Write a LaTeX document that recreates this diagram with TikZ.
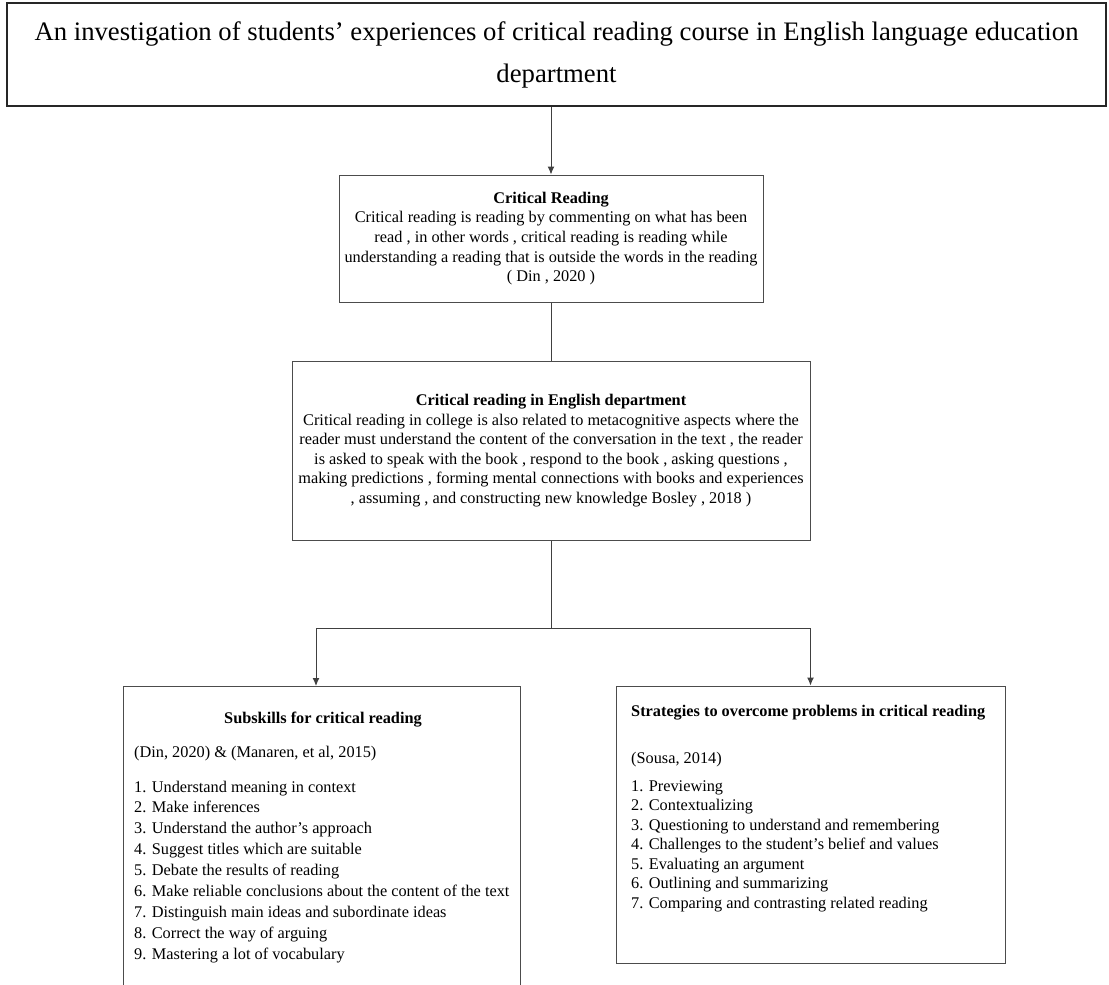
\documentclass[tikz,border=0pt]{standalone}
\usepackage{fontspec}
\setmainfont{Liberation Serif}
\usetikzlibrary{arrows.meta}

\begin{document}
\begin{tikzpicture}[x=1pt,y=-1pt,
    box/.style={draw=black!70,line width=1pt,inner sep=0pt},
    body/.style={font=\fontsize{16.3}{19.6}\selectfont,align=center,inner sep=0pt},
    itemtext/.style={font=\fontsize{16.3}{19.6}\selectfont,inner sep=0pt,anchor=base west},
    headtext/.style={font=\fontsize{16.3}{19.6}\selectfont\bfseries,inner sep=0pt},
    conn/.style={draw=black!75,line width=1pt},
    arr/.style={conn,-{Latex[length=8pt,width=7pt]}}]
    \useasboundingbox (0,0) rectangle (1109,985);

    % top title
    \node(title)[box,draw=black!85,line width=1.8pt,minimum width=1099pt,minimum height=103pt,
        font=\fontsize{26.7}{42}\selectfont,align=center] at (556.5,54.5)
        {An investigation of students’ experiences of critical reading course in English language education\\department};

    % middle boxes
    \node(cr)[box,minimum width=424pt,minimum height=127pt,body] at (551,238.5)
        {\textbf{Critical Reading}\\
        Critical reading is reading by commenting on what has been\\
        read , in other words , critical reading is reading while\\
        understanding a reading that is outside the words in the reading\\
        ( Din , 2020 )};
    \node(cre)[box,minimum width=518pt,minimum height=179pt,body] at (551,450.5)
        {\textbf{Critical reading in English department}\\
        Critical reading in college is also related to metacognitive aspects where the\\
        reader must understand the content of the conversation in the text , the reader\\
        is asked to speak with the book , respond to the book , asking questions ,\\
        making predictions , forming mental connections with books and experiences\\
        , assuming , and constructing new knowledge Bosley , 2018 )};

    % bottom boxes
    \node(sub)[box,minimum width=397pt,minimum height=320pt] at (321.5,846) {};
    \node(str)[box,minimum width=389pt,minimum height=277pt] at (810.5,824.5) {};

    \node(subhead)[headtext,anchor=base] at (323,723) {Subskills for critical reading};
    \node(subsrc)[itemtext] at (134,757) {(Din, 2020) \& (Manaren, et al, 2015)};
    \foreach \t [count=\i] in {Understand meaning in context, Make inferences,
        Understand the author's approach, Suggest titles which are suitable,
        Debate the results of reading, Make reliable conclusions about the content of the text,
        Distinguish main ideas and subordinate ideas, Correct the way of arguing,
        Mastering a lot of vocabulary}
        \node(subitem\i)[itemtext] at (134,{792+(\i-1)*20.9}) {\i. \t};

    \node(strhead)[headtext,anchor=base west] at (631,716) {Strategies to overcome problems in critical reading};
    \node(strsrc)[itemtext] at (631,763) {(Sousa, 2014)};
    \foreach \t [count=\i] in {Previewing, Contextualizing,
        Questioning to understand and remembering, Challenges to the student’s belief and values,
        Evaluating an argument, Outlining and summarizing,
        Comparing and contrasting related reading}
        \node(stritem\i)[itemtext] at (631,{791+(\i-1)*19.5}) {\i. \t};

    % connectors
    \coordinate(split) at (551,628);
    \draw[arr] (title.south -| cr.north) -- (cr);
    \draw[conn] (cr) -- (cre);
    \draw[conn] (cre) -- (split);
    \draw[arr] (split) -| (316,686);
    \draw[arr] (split) -| (str.north);
\end{tikzpicture}
\end{document}
